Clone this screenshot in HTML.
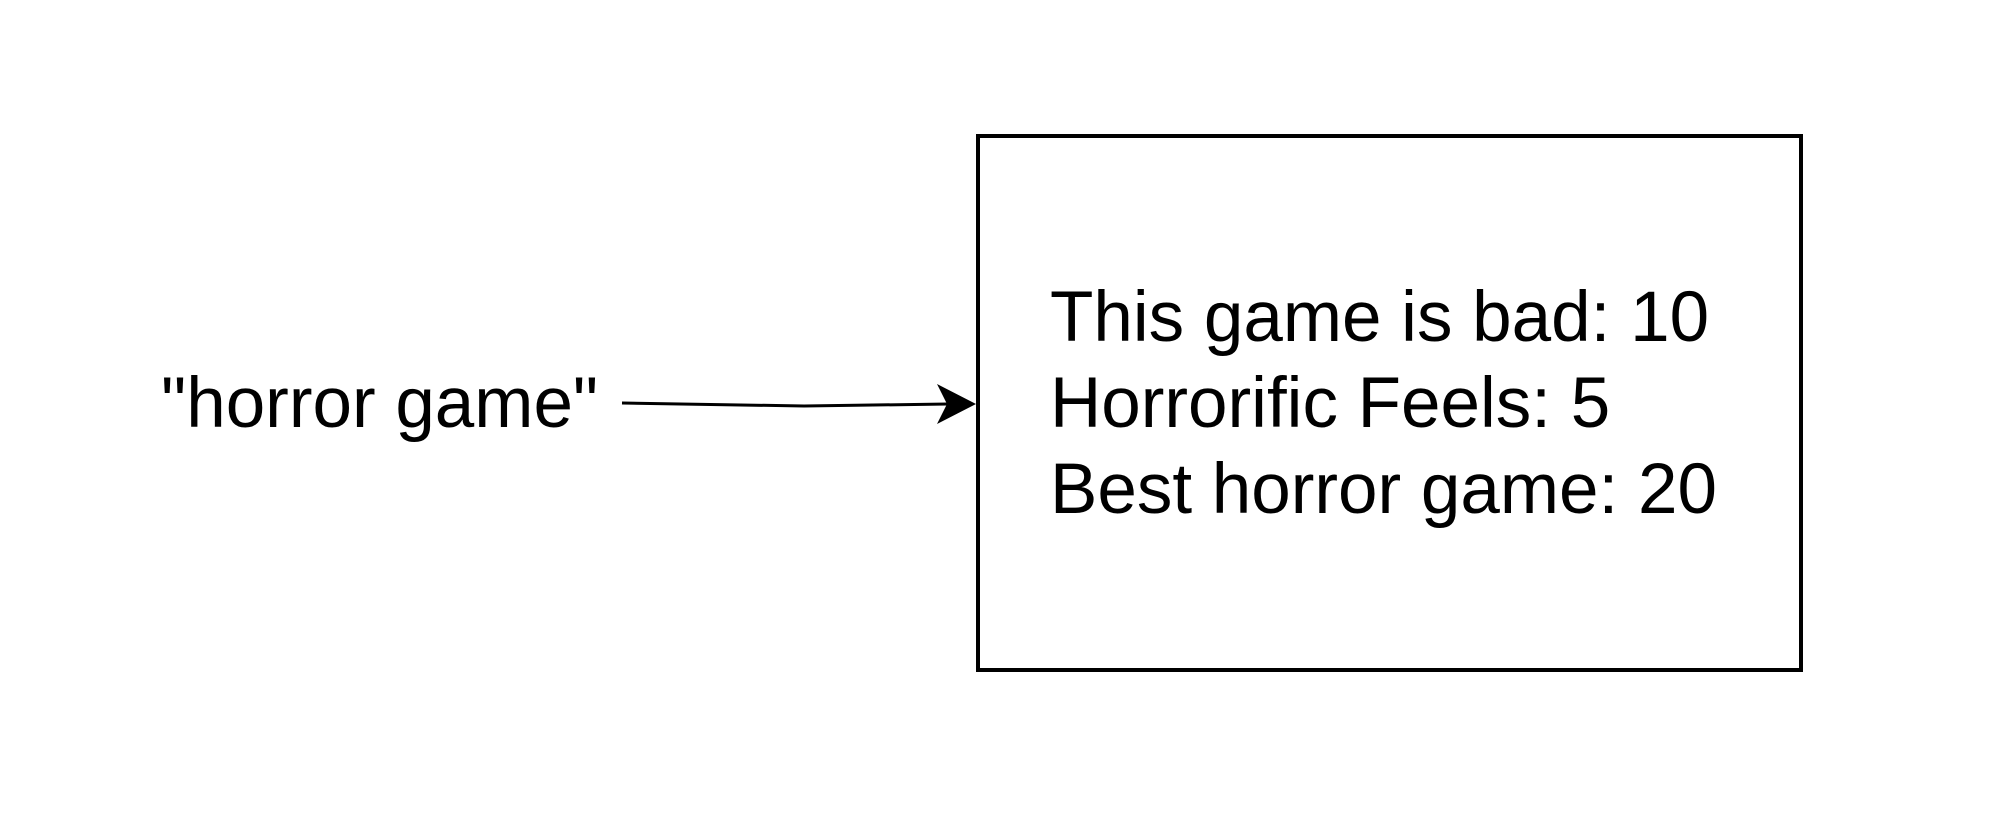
<!DOCTYPE html>
<html><head><style>html,body{margin:0;padding:0;background:#fff;}svg{display:block}</style></head>
<body>
<svg width="2000" height="818" viewBox="0 0 2000 818" xmlns="http://www.w3.org/2000/svg">
<rect x="978" y="136" width="823" height="534" fill="#fff" stroke="#000" stroke-width="4"/>
<g font-family="Liberation Sans, Arial, sans-serif" font-size="71" fill="#000">
<text x="1050" y="341">This game is bad: 10</text>
<text x="1050" y="427">Horrorific Feels: 5</text>
<text x="1050" y="513">Best horror game: 20</text>
<text x="161" y="427">"horror game"</text>
</g>
<polyline points="622,403 804,406 948,404" fill="none" stroke="#000" stroke-width="3"/>
<path d="M976,404 L937,384 L947,404 L937,424 Z" fill="#000"/>
</svg>
</body></html>
